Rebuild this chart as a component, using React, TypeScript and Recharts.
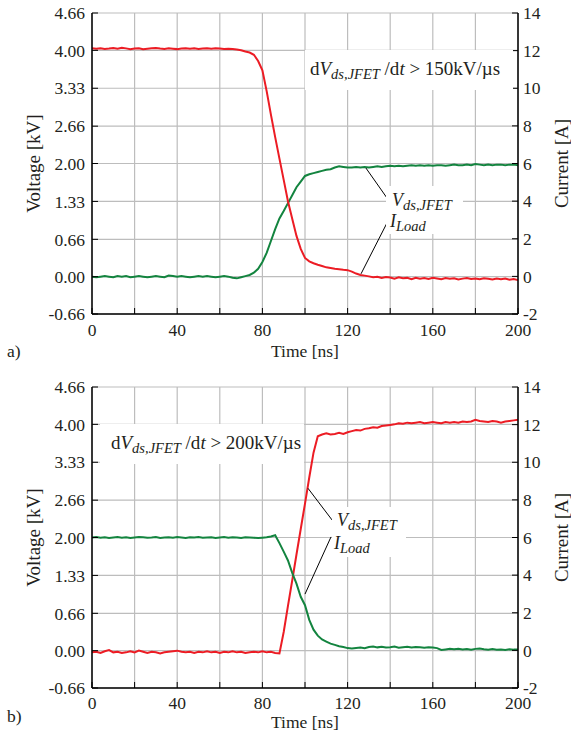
import React from 'react'
import { LineChart, Line, XAxis, YAxis, CartesianGrid, ReferenceLine } from 'recharts'

// sample instants, 2 ns apart
const times = Array.from({ length: 101 }, (_, i) => i * 2)

const timeTicks = [0, 20, 40, 60, 80, 100, 120, 140, 160, 180, 200]
const voltTicks = [-0.66, 0, 0.66, 1.33, 2, 2.66, 3.33, 4, 4.66]
const ampTicks = [-2, 0, 2, 4, 6, 8, 10, 12, 14]

// a) turn-off: voltage in kV (green), current in A (red)
const offVoltage = [
  0.0, -0.01, 0.0, 0.01, 0.0, -0.01, 0.01, 0.0, 0.01, -0.01,
  0.0, 0.01, 0.0, -0.01, 0.0, 0.01, 0.0, -0.01, 0.02, 0.01,
  0.0, 0.01, 0.0, -0.01, 0.0, 0.01, 0.0, 0.01, 0.0, -0.01,
  0.0, 0.01, 0.0, -0.02, -0.03, -0.01, 0.01, 0.03, 0.07, 0.14,
  0.26, 0.42, 0.63, 0.84, 1.03, 1.16, 1.3, 1.44, 1.58, 1.68,
  1.78, 1.81, 1.83, 1.85, 1.87, 1.89, 1.9, 1.93, 1.95, 1.94,
  1.93, 1.93, 1.94, 1.93, 1.94, 1.93, 1.94, 1.95, 1.94, 1.95,
  1.96, 1.95, 1.96, 1.95, 1.96, 1.97, 1.96, 1.97, 1.96, 1.97,
  1.96, 1.97, 1.97, 1.96, 1.97, 1.98, 1.97, 1.97, 1.98, 1.97,
  1.99, 1.98, 1.97, 1.98, 1.97, 1.98, 1.98, 1.97, 1.98, 1.98, 1.97,
]
const offCurrent = [
  12.12, 12.1, 12.13, 12.09, 12.11, 12.14, 12.1, 12.15, 12.12, 12.08,
  12.11, 12.13, 12.07, 12.1, 12.12, 12.14, 12.11, 12.09, 12.12, 12.1,
  12.08, 12.11, 12.13, 12.1, 12.12, 12.09, 12.11, 12.13, 12.1, 12.12,
  12.11, 12.09, 12.1, 12.08, 12.06, 12.02, 11.95, 11.9, 11.78, 11.45,
  10.95, 9.85, 8.6, 7.4, 6.26, 5.13, 3.99, 3.06, 2.15, 1.46,
  0.98, 0.8, 0.7, 0.62, 0.55, 0.48, 0.44, 0.4, 0.38, 0.35,
  0.33, 0.25, 0.15, 0.07, 0.04, 0.0, -0.04, -0.02, -0.08, -0.03,
  -0.06, -0.12, -0.05, -0.1, -0.08, -0.15, -0.07, -0.12, -0.09, -0.14,
  -0.08, -0.11, -0.15, -0.09, -0.12, -0.1, -0.16, -0.12, -0.09, -0.14,
  -0.11, -0.15, -0.1, -0.13, -0.17, -0.12, -0.15, -0.11, -0.18, -0.14, -0.2,
]

// b) turn-on: voltage in kV (red), current in A (green)
const onVoltage = [
  -0.03, -0.02, -0.04, -0.01, 0.01, -0.03, -0.02, -0.04, -0.03, -0.01,
  -0.03, 0.0, -0.02, -0.04, -0.02, -0.03, -0.05, -0.03, -0.02, -0.01,
  0.0, -0.02, -0.03, -0.02, -0.04, -0.02, -0.03, -0.01, -0.03, -0.02,
  -0.04, -0.02, -0.03, -0.01, -0.03, -0.02, -0.04, -0.03, -0.02, -0.03,
  -0.01, -0.03, -0.02, -0.04, -0.05, 0.33, 0.79, 1.24, 1.7, 2.15,
  2.6, 3.06, 3.5, 3.79, 3.82, 3.84, 3.82, 3.83, 3.85, 3.83,
  3.86, 3.88, 3.9, 3.89, 3.92, 3.93, 3.95, 3.94, 3.97, 3.98,
  3.99, 4.0, 4.02, 4.01, 4.03, 4.02, 4.03, 4.04, 4.02, 4.03,
  4.04, 4.03, 4.02, 4.04, 4.03, 4.04, 4.03, 4.05, 4.04, 4.05,
  4.08, 4.06, 4.05, 4.04, 4.06, 4.05, 4.03, 4.05, 4.06, 4.07, 4.08,
]
const onCurrent = [
  6.0, 6.02, 5.99, 6.01, 5.98, 6.0, 6.02, 5.99, 6.01, 5.97,
  6.0, 6.02, 6.01, 5.99, 6.0, 6.02, 5.98, 6.0, 6.01, 5.99,
  6.02, 6.0, 5.98, 6.01, 6.0, 6.02, 5.99, 6.0, 6.01, 5.98,
  6.0, 6.02, 5.99, 6.01, 6.0, 5.98, 6.01, 6.0, 5.99, 5.97,
  5.99, 6.01, 6.05, 6.12, 5.7, 5.25, 4.78, 4.12, 3.55, 2.85,
  2.4, 1.62, 1.1, 0.78, 0.58, 0.47, 0.36, 0.29, 0.22, 0.18,
  0.12, 0.1, 0.13, 0.15, 0.12, 0.18, 0.2, 0.16, 0.19, 0.15,
  0.17, 0.2, 0.14, 0.17, 0.19, 0.15, 0.18, 0.16, 0.14, 0.17,
  0.15, 0.12, 0.02, 0.05, 0.08, 0.06, 0.09, 0.05, 0.07, 0.04,
  0.08, 0.1, 0.06, 0.04, 0.07, 0.03, 0.05, 0.02, 0.06, 0.04, 0.05,
]

// leader lines [t0, kV0, t1, kV1]
const offLeaders = [
  [128.6, 1.92, 138.5, 1.39],
  [126.3, 0.05, 138.5, 0.95],
]
const onLeaders = [
  [101.4, 2.87, 112.7, 2.31],
  [100.0, 1.0, 112.2, 2.01],
]

const RED = '#ec1c24'
const GREEN = '#13843f'
const INK = '#231f20'
const FONT = '"Liberation Serif", "Times New Roman", serif'

const offData = times.map((t, i) => ({ t, v: offVoltage[i], a: offCurrent[i] }))
const onData = times.map((t, i) => ({ t, v: onVoltage[i], a: onCurrent[i] }))

const tickStyle = { fontSize: 17.5, fill: INK, fontFamily: FONT }

function Panel({ data, vColor, aColor, leaders, xTickMargin }: any) {
  return (
    <LineChart width={571} height={360} data={data} margin={{ top: 13, right: 0, bottom: 0, left: 0 }}>
      <CartesianGrid yAxisId="v" stroke="#bdbdbd" strokeWidth={1.2} />
      <XAxis
        dataKey="t"
        type="number"
        domain={[0, 200]}
        ticks={timeTicks}
        interval={0}
        tickFormatter={(v: number) => (v % 40 === 0 ? String(v) : '')}
        height={46}
        tickSize={-6}
        tickMargin={xTickMargin}
        tick={tickStyle}
        axisLine={{ stroke: '#000', strokeWidth: 1.5 }}
        tickLine={{ stroke: '#000' }}
      />
      <XAxis xAxisId="top" orientation="top" type="number" domain={[0, 200]} height={0} tick={false} tickLine={false} axisLine={{ stroke: '#000', strokeWidth: 1.5 }} />
      <YAxis
        yAxisId="v"
        type="number"
        domain={[-0.66, 4.66]}
        ticks={voltTicks}
        interval={0}
        allowDataOverflow
        tickFormatter={(v: number) => v.toFixed(2)}
        width={92}
        tickSize={-6}
        tickMargin={13}
        tick={tickStyle}
        axisLine={{ stroke: '#000', strokeWidth: 1.5 }}
        tickLine={{ stroke: '#000' }}
        label={{ value: 'Voltage [kV]', angle: -90, position: 'insideLeft', offset: 33, style: { textAnchor: 'middle', fontFamily: FONT, fontSize: 19, fill: INK } }}
      />
      <YAxis
        yAxisId="a"
        orientation="right"
        type="number"
        domain={[-2, 14]}
        ticks={ampTicks}
        interval={0}
        allowDataOverflow
        width={53}
        tickSize={-6}
        tickMargin={11}
        tick={{ ...tickStyle, textAnchor: 'start' }}
        axisLine={{ stroke: '#000', strokeWidth: 1.5 }}
        tickLine={{ stroke: '#000' }}
        label={{ value: 'Current [A]', angle: -90, position: 'insideRight', offset: 10, style: { textAnchor: 'middle', fontFamily: FONT, fontSize: 19, fill: INK } }}
      />
      <Line yAxisId="v" dataKey="v" stroke={vColor} strokeWidth={2} dot={false} type="linear" isAnimationActive={false} />
      <Line yAxisId="a" dataKey="a" stroke={aColor} strokeWidth={2} dot={false} type="linear" isAnimationActive={false} />
      {leaders.map((l: number[], i: number) => (
        <ReferenceLine
          key={i}
          yAxisId="v"
          segment={[{ x: l[0], y: l[1] }, { x: l[2], y: l[3] }]}
          stroke="#000"
          strokeWidth={1}
          ifOverflow="visible"
        />
      ))}
    </LineChart>
  )
}

const sub = { fontSize: 14.5, fontStyle: 'italic' as const }

function Notes() {
  return (
    <svg width={571} height={735} style={{ position: 'absolute', left: 0, top: 0, pointerEvents: 'none' }} fontFamily={FONT} fill={INK}>
      {/* a) */}
      <rect x={305} y={50} width={208} height={40} fill="#fff" />
      <text x={310} y={75} fontSize={19}>
        d<tspan fontStyle="italic">V</tspan>
        <tspan {...sub} dy={4}>ds,JFET</tspan>
        <tspan dy={-4}> /d</tspan>
        <tspan fontStyle="italic">t</tspan> &gt; 150kV/µs
      </text>
      <rect x={386} y={186} width={77} height={48} fill="#fff" />
      <text x={392} y={206} fontSize={18}>
        <tspan fontStyle="italic">V</tspan>
        <tspan {...sub} dy={4}>ds,JFET</tspan>
      </text>
      <text x={390} y={227} fontSize={18}>
        <tspan fontStyle="italic">I</tspan>
        <tspan {...sub} dy={4}>Load</tspan>
      </text>
      <text x={305} y={357} fontSize={17.5} textAnchor="middle">Time [ns]</text>
      <text x={7} y={357} fontSize={17.5}>a)</text>

      {/* b) */}
      <rect x={100} y={424} width={204} height={40} fill="#fff" />
      <text x={111} y={449} fontSize={19}>
        d<tspan fontStyle="italic">V</tspan>
        <tspan {...sub} dy={4}>ds,JFET</tspan>
        <tspan dy={-4}> /d</tspan>
        <tspan fontStyle="italic">t</tspan> &gt; 200kV/µs
      </text>
      <rect x={332} y={507} width={74} height={50} fill="#fff" />
      <text x={337} y={526} fontSize={18}>
        <tspan fontStyle="italic">V</tspan>
        <tspan {...sub} dy={4}>ds,JFET</tspan>
      </text>
      <text x={334} y={549} fontSize={18}>
        <tspan fontStyle="italic">I</tspan>
        <tspan {...sub} dy={4}>Load</tspan>
      </text>
      <text x={305} y={728} fontSize={17.5} textAnchor="middle">Time [ns]</text>
      <text x={7} y={722} fontSize={17.5}>b)</text>
    </svg>
  )
}

export default function App() {
  return (
    <div style={{ position: 'absolute', left: 0, top: 0, width: 571, height: 735, background: '#fff', fontFamily: FONT }}>
      <div style={{ position: 'absolute', left: 0, top: 0 }}>
        <Panel data={offData} vColor={GREEN} aColor={RED} leaders={offLeaders} xTickMargin={16} />
      </div>
      <div style={{ position: 'absolute', left: 0, top: 374 }}>
        <Panel data={onData} vColor={RED} aColor={GREEN} leaders={onLeaders} xTickMargin={15} />
      </div>
      <Notes />
    </div>
  )
}
